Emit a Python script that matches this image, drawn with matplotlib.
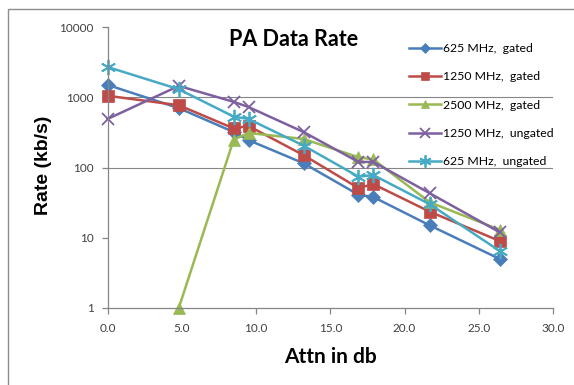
import matplotlib
matplotlib.use("Agg")
import matplotlib.pyplot as plt
import numpy as np
from matplotlib.patches import Rectangle

# attenuation points (db)
attn = [0.0, 4.8, 8.5, 9.5, 13.2, 16.9, 17.9, 21.7, 26.4]

rate_625_gated = [1500, 700, 320, 245, 115, 41, 38, 15, 5.0]
rate_1250_gated = [1050, 770, 360, 390, 150, 51, 58, 23.5, 9.0]
rate_2500_gated = [np.nan, 1.0, 250, 310, 255, 140, 130, 32, 13]
rate_1250_ungated = [490, 1450, 860, 725, 320, 120, 120, 43, 12]
rate_625_ungated = [2700, 1300, 530, 490, 205, 74, 78, 30, 6.5]

labels = ["625 MHz,  gated", "1250 MHz,  gated", "2500 MHz,  gated",
          "1250 MHz,  ungated", "625 MHz,  ungated"]
colors = ["#4A7EBB", "#BE4B48", "#98B954", "#7D60A0", "#46AAC5"]
markers = ["D", "s", "^", "x", (6, 2, 0)]
msizes = [7, 8, 8, 9, 11]

x_ticks = [0, 5, 10, 15, 20, 25, 30]
y_ticks = [1, 10, 100, 1000, 10000]
grid_levels = [100, 1000]

W, H = 574, 385
fig = plt.figure(figsize=(W / 100, H / 100), dpi=100)
fig.patch.set_facecolor("white")

# chart border (Excel chart area), runs off the right and bottom edges
fig.patches.append(Rectangle((8 / W, -0.1), 1.2, 1 - 9 / H + 0.1, transform=fig.transFigure,
                             fill=False, edgecolor="#8C8C8C", linewidth=1.0))

ax = fig.add_axes([107.5 / W, 1 - 308 / H, (553 - 107.5) / W, (308 - 27) / H])
ax.set_yscale("log")
ax.set_xlim(0, 30)
ax.set_ylim(1, 10000)

for lvl in grid_levels:
    ax.axhline(lvl, color="#868686", linewidth=0.8, zorder=0)

series = [rate_625_gated, rate_1250_gated, rate_2500_gated, rate_1250_ungated, rate_625_ungated]
for ys, lab, c, m, ms in zip(series, labels, colors, markers, msizes):
    thin = m == "x" or isinstance(m, tuple)
    ax.plot(attn, ys, color=c, marker=m, markersize=ms, linewidth=1.8, label=lab,
            markeredgewidth=1.3 if thin else 0.5, markeredgecolor=c, clip_on=False)

ax.set_xticks(x_ticks)
ax.set_xticklabels([f"{v:.1f}" for v in x_ticks])
ax.set_yticks(y_ticks)
ax.set_yticklabels([str(v) for v in y_ticks])
ax.minorticks_off()

for s in ["top", "right"]:
    ax.spines[s].set_visible(False)
for s in ["left", "bottom"]:
    ax.spines[s].set_color("#868686")
    ax.spines[s].set_linewidth(0.9)
ax.tick_params(axis="both", colors="#868686", length=4, width=0.9, labelsize=8.5,
               labelcolor="#404040")
ax.tick_params(axis="x", pad=7)
ax.tick_params(axis="y", pad=6)
for t in ax.get_xticklabels() + ax.get_yticklabels():
    t.set_family("Lato")

fig.text(294 / W, 1 - 40 / H, "PA Data Rate", ha="center", va="center",
         fontsize=15.5, fontweight="bold", family="Lato")
fig.text(330 / W, 1 - 357 / H, "Attn in db", ha="center", va="center",
         fontsize=15, fontweight="bold", family="Lato")
fig.text(44 / W, 1 - 165 / H, "Rate (kb/s)", ha="center", va="center", rotation=90,
         fontsize=14, fontweight="bold", family="Liberation Sans")

ax.legend(loc="upper left", bbox_to_anchor=(409 / W, 1 - 43 / H), bbox_transform=fig.transFigure,
          frameon=False, handlelength=2.6, handletextpad=0.15, labelspacing=1.42,
          markerscale=0.8, prop={"family": "Lato", "size": 8.8}, borderaxespad=0, borderpad=0)

fig.savefig("out.png", dpi=100)
